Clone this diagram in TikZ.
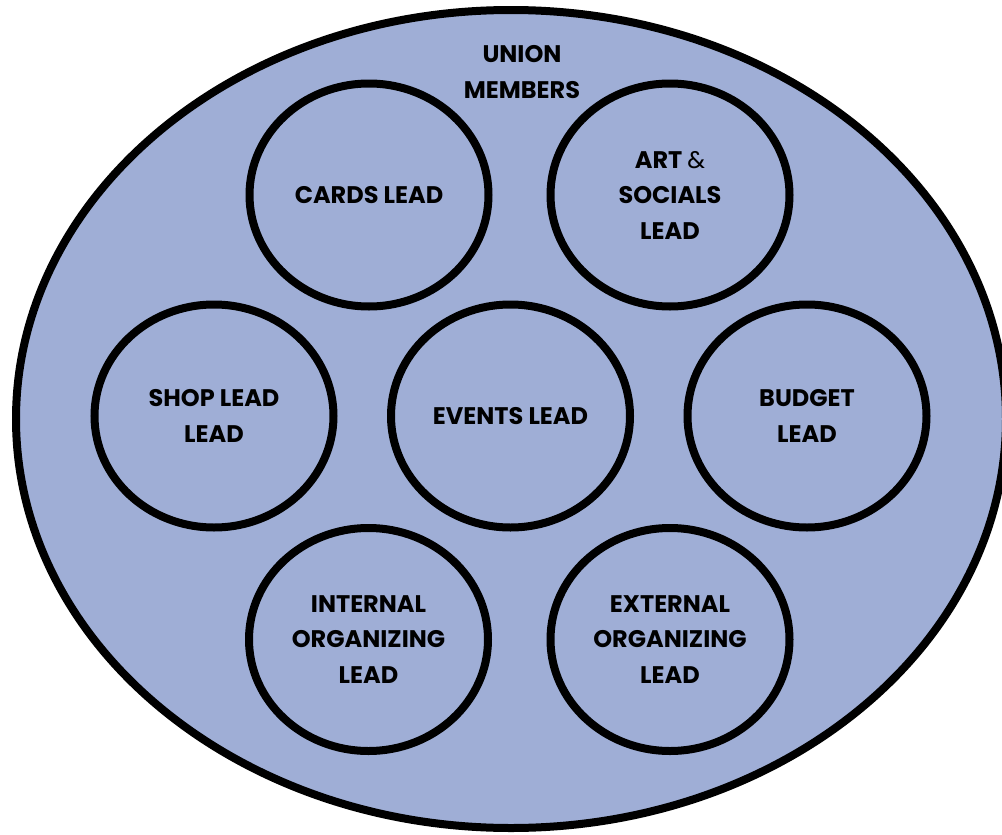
\documentclass[tikz,border=0pt]{standalone}
\usepackage{fontspec}
\setmainfont{Poppins}
\usetikzlibrary{shapes.geometric}
\definecolor{memberblue}{RGB}{159,174,214}
\tikzset{
  members/.style={ellipse, draw=black, fill=memberblue, line width=8pt, inner sep=0pt,
    minimum width=990pt, minimum height=818pt},
  leadbox/.style={ellipse, draw=black, line width=8pt, inner sep=0pt,
    minimum width=239pt, minimum height=223pt, align=center,
    font=\bfseries\fontsize{24}{35.5}\selectfont},
  title/.style={align=center, font=\bfseries\fontsize{24}{36}\selectfont, inner sep=0pt}
}
\begin{document}
\begin{tikzpicture}[x=1pt,y=-1pt]
\useasboundingbox (0,0) rectangle (1002,835);
\clip (0,0) rectangle (1002,835);
\node[members] (union) at (511,419) {};
\node[title] (unionlbl) at (522,72) {UNION\\MEMBERS};
\node[leadbox] (cards) at (369,195) {CARDS LEAD};
\node[leadbox] (art) at (670,195) {ART {\mdseries\&}\\SOCIALS\\LEAD};
\node[leadbox] (shop) at (214,416) {SHOP LEAD\\LEAD};
\node[leadbox] (events) at (510.5,416) {EVENTS LEAD};
\node[leadbox] (budget) at (807,416) {BUDGET\\LEAD};
\node[leadbox] (internal) at (368.5,639.5) {INTERNAL\\ORGANIZING\\LEAD};
\node[leadbox] (external) at (670,639.5) {EXTERNAL\\ORGANIZING\\LEAD};
\end{tikzpicture}
\end{document}
